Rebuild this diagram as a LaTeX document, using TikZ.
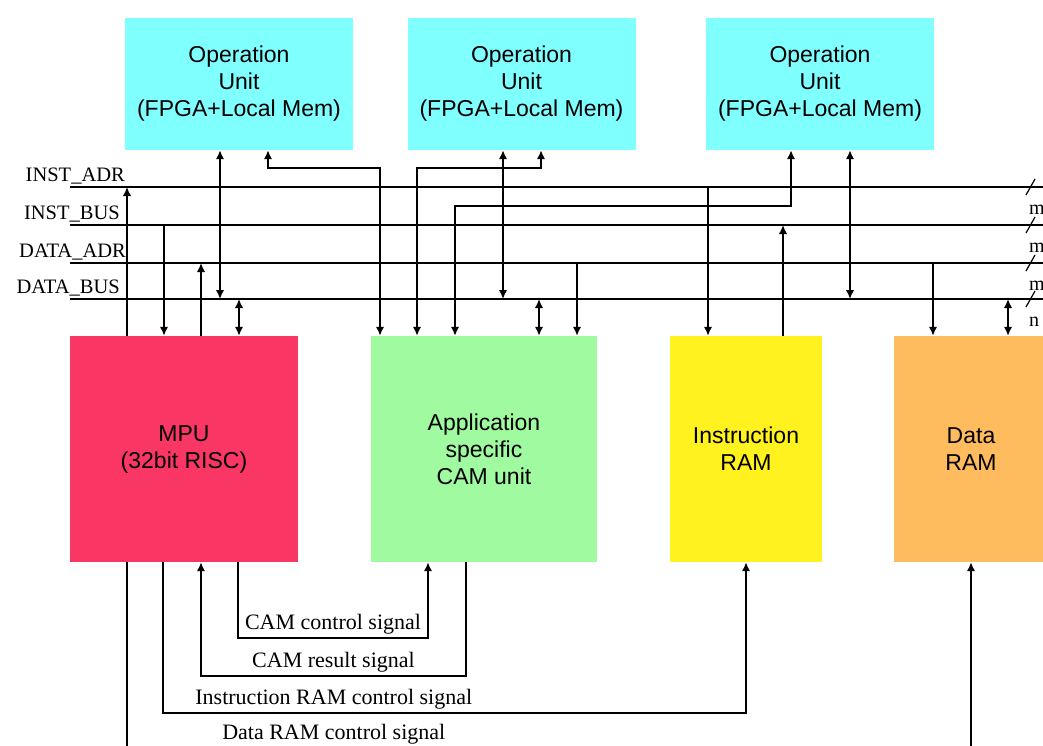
\documentclass[tikz,border=0pt]{standalone}
\usepackage{fontspec}
\setmainfont{Liberation Serif}
\newfontfamily\boxfont{Liberation Sans}
\usetikzlibrary{arrows.meta}

\definecolor{opcyan}{RGB}{128,255,255}
\definecolor{mpured}{RGB}{250,55,100}
\definecolor{camgreen}{RGB}{160,250,160}
\definecolor{iramyellow}{RGB}{255,242,30}
\definecolor{dramorange}{RGB}{255,188,95}

\tikzset{
  >={Latex[length=9pt,width=8.5pt]},
  blk/.style={inner sep=0pt, align=center, font=\boxfont\fontsize{23}{27}\selectfont},
  opunit/.style={blk, fill=opcyan, minimum width=228pt, minimum height=132pt},
  wire/.style={line width=1.8pt},
  buslbl/.style={anchor=base east, inner sep=0pt, font=\fontsize{20.5}{24}\selectfont},
  sig/.style={above, font=\fontsize{22}{26}\selectfont},
  width/.style={anchor=west, inner sep=0pt, font=\fontsize{20}{24}\selectfont}
}

\begin{document}
\begin{tikzpicture}[x=1pt, y=-1pt]

  \useasboundingbox (0,0) rectangle (1043,745);
  \clip (0,0) rectangle (1043,745);

  % operation units
  \node[opunit] (ou1) at (239,84) {Operation\\Unit\\(FPGA+Local Mem)};
  \node[opunit] (ou2) at (521.5,84) {Operation\\Unit\\(FPGA+Local Mem)};
  \node[opunit] (ou3) at (820,84) {Operation\\Unit\\(FPGA+Local Mem)};

  % main blocks
  \node[blk, fill=mpured, minimum width=228pt, minimum height=226pt] (mpu) at (184,449) {MPU\\(32bit RISC)};
  \node[blk, fill=camgreen, minimum width=226pt, minimum height=226pt] (cam) at (484,449) {Application\\specific\\CAM unit};
  \node[blk, fill=iramyellow, minimum width=152pt, minimum height=226pt] (iram) at (746,449) {Instruction\\RAM};
  \node[blk, fill=dramorange, minimum width=154pt, minimum height=226pt] (dram) at (971,449) {Data\\RAM};

  % buses
  \coordinate (ia) at (70,187);
  \coordinate (ib) at (70,225);
  \coordinate (da) at (70,263);
  \coordinate (db) at (70,299);
  \node[buslbl] (lia) at (125,181) {INST\_ADR};
  \node[buslbl] (lib) at (120,219) {INST\_BUS};
  \node[buslbl] (lda) at (126,257) {DATA\_ADR};
  \node[buslbl] (ldb) at (120,293) {DATA\_BUS};
  \foreach \b/\w in {ia/m,ib/m,da/m,db/n}{
    \draw[wire] (\b) -- (1050,0 |- \b);
    \draw[line width=1.2pt] ([shift={(1026,8)}]0,0 |- \b) -- ([shift={(1035,-8)}]0,0 |- \b);
    \node[width] (w-\b) at ([shift={(1029,23)}]0,0 |- \b) {\w};
  }

  % MPU to buses
  \draw[wire,->] (mpu.north -| 127,0) -- (127,0 |- ia);
  \draw[wire,->] (164,0 |- ib) -- (mpu.north -| 164,0);
  \draw[wire,->] (mpu.north -| 201,0) -- (201,0 |- da);
  \draw[wire,<->] (239,0 |- db) -- (mpu.north -| 239,0);

  % operation units to buses and CAM unit
  \draw[wire,<->] (ou1.south -| 220,0) -- (220,0 |- db);
  \draw[wire,<->] (ou1.south -| 268,0) |- (380,168) -- (cam.north -| 380,0);
  \draw[wire,<->] (ou2.south -| 541,0) |- (417,168) -- (cam.north -| 417,0);
  \draw[wire,<->] (ou3.south -| 791,0) |- (455,206) -- (cam.north -| 455,0);
  \draw[wire,<->] (ou2.south -| 503,0) -- (503,0 |- db);
  \draw[wire,<->] (ou3.south -| 850,0) -- (850,0 |- db);

  % CAM unit to buses
  \draw[wire,<->] (539,0 |- db) -- (cam.north -| 539,0);
  \draw[wire,->] (577,0 |- da) -- (cam.north -| 577,0);

  % memories to buses
  \draw[wire,->] (708,0 |- ia) -- (iram.north -| 708,0);
  \draw[wire,->] (iram.north -| 783,0) -- (783,0 |- ib);
  \draw[wire,->] (933,0 |- da) -- (dram.north -| 933,0);
  \draw[wire,<->] (1008,0 |- db) -- (dram.north -| 1008,0);

  % control signals
  \draw[wire,->] (mpu.south -| 238,0) -- (238,638) -- node[sig] (s1) {CAM control signal} (428,638) -- (cam.south -| 428,0);
  \draw[wire,->] (cam.south -| 466,0) -- (466,676) -- node[sig] (s2) {CAM result signal} (201,676) -- (mpu.south -| 201,0);
  \draw[wire,->] (mpu.south -| 163,0) -- (163,713) -- node[sig,pos=0.293] (s3) {Instruction RAM control signal} (746,713) -- (iram.south);
  \draw[wire,->] (mpu.south -| 127,0) -- (127,748) -- node[sig,pos=0.245] (s4) {Data RAM control signal} (971,748) -- (dram.south);

\end{tikzpicture}
\end{document}
